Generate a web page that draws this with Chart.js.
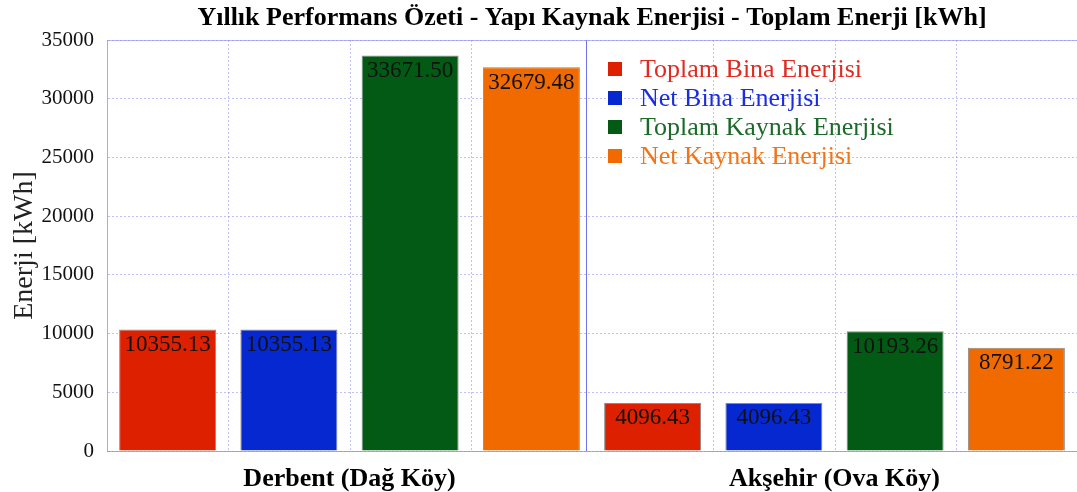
<!DOCTYPE html>
<html>
<head>
<meta charset="utf-8">
<script src="https://cdn.jsdelivr.net/npm/chart.js@4/dist/chart.umd.min.js"></script>
<style>
  html, body { margin: 0; padding: 0; background: #fff; overflow: hidden; }
  #wrap { width: 1077px; height: 492px; }
</style>
</head>
<body>
<div id="wrap"><canvas id="myChart" width="1077" height="492"></canvas></div>
<script>
// villages on the x axis
const villages = ["Derbent (Dağ Köy)", "Akşehir (Ova Köy)"];

// yearly energy values per village, kWh
const toplamBina = [10355.13, 4096.43];
const netBina = [10355.13, 4096.43];
const toplamKaynak = [33671.50, 10193.26];
const netKaynak = [32679.48, 8791.22];

const seriesNames = ["Toplam Bina Enerjisi", "Net Bina Enerjisi", "Toplam Kaynak Enerjisi", "Net Kaynak Enerjisi"];
const barColors = ["#dd2000", "#0628d0", "#025a14", "#f06a00"];
const labelColors = ["#e02a22", "#1a2ee0", "#1c6a2a", "#f07418"];

const yTicks = [0, 5000, 10000, 15000, 20000, 25000, 30000, 35000];

const chartTitle = "Yıllık Performans Özeti - Yapı Kaynak Enerjisi - Toplam Enerji [kWh]";

const serif = "'Liberation Serif', 'DejaVu Serif', serif";
const gridBlue = "rgba(130,130,240,0.5)";

// title centred over the plot area rather than the whole canvas
const plotTitle = {
  id: "plotTitle",
  afterDraw(chart) {
    const ctx = chart.ctx;
    const area = chart.chartArea;
    ctx.save();
    ctx.font = "bold 26px " + serif;
    ctx.fillStyle = "#000";
    ctx.textAlign = "center";
    ctx.textBaseline = "middle";
    ctx.fillText(chartTitle, (area.left + area.right) / 2, 18);
    ctx.restore();
  }
};

// value printed at the top of each bar
const valueLabels = {
  id: "valueLabels",
  afterDatasetsDraw(chart) {
    const ctx = chart.ctx;
    ctx.save();
    ctx.font = "23px " + serif;
    ctx.fillStyle = "#111";
    ctx.textAlign = "center";
    ctx.textBaseline = "top";
    chart.data.datasets.forEach((ds, i) => {
      chart.getDatasetMeta(i).data.forEach((bar, j) => {
        ctx.fillText(ds.data[j].toFixed(2), bar.x, bar.y + 4);
      });
    });
    ctx.restore();
  }
};

// dotted separators between the bars, solid line between the villages, frame on top
const frameLines = {
  id: "frameLines",
  beforeDatasetsDraw(chart) {
    const ctx = chart.ctx;
    const area = chart.chartArea;
    const metas = chart.data.datasets.map((d, i) => chart.getDatasetMeta(i));
    ctx.save();
    ctx.lineWidth = 1;
    ctx.strokeStyle = gridBlue;
    ctx.setLineDash([2, 2]);
    villages.forEach((v, j) => {
      for (let i = 0; i < metas.length - 1; i++) {
        const a = metas[i].data[j];
        const b = metas[i + 1].data[j];
        const x = Math.round(((a.x + a.width / 2) + (b.x - b.width / 2)) / 2) + 0.5;
        ctx.beginPath();
        ctx.moveTo(x, area.top);
        ctx.lineTo(x, area.bottom);
        ctx.stroke();
      }
    });
    ctx.setLineDash([]);
    // border between the two villages
    const xs = chart.scales.x;
    const sep = Math.round((xs.getPixelForValue(0) + xs.getPixelForValue(1)) / 2) - 5.5;
    ctx.strokeStyle = "#7070ec";
    ctx.beginPath();
    ctx.moveTo(sep, area.top);
    ctx.lineTo(sep, area.bottom);
    ctx.stroke();
    // top frame
    ctx.strokeStyle = "rgba(140,140,240,0.6)";
    ctx.beginPath();
    ctx.moveTo(area.left, area.top + 0.5);
    ctx.lineTo(area.right, area.top + 0.5);
    ctx.stroke();
    ctx.restore();
  }
};

// legend drawn inside the plot, right of the village separator
const innerLegend = {
  id: "innerLegend",
  afterDraw(chart) {
    const ctx = chart.ctx;
    const area = chart.chartArea;
    const xs = chart.scales.x;
    const sep = (xs.getPixelForValue(0) + xs.getPixelForValue(1)) / 2 - 6;
    const x0 = sep + 22;
    ctx.save();
    ctx.font = "26px " + serif;
    ctx.textBaseline = "middle";
    chart.data.datasets.forEach((ds, i) => {
      const y = area.top + 29 + i * 29;
      ctx.fillStyle = ds.backgroundColor;
      ctx.fillRect(x0, y - 7, 14, 14);
      ctx.fillStyle = labelColors[i];
      ctx.fillText(ds.label, x0 + 32, y + 1);
    });
    ctx.restore();
  }
};

const data = {
  labels: villages,
  datasets: [toplamBina, netBina, toplamKaynak, netKaynak].map((vals, i) => ({
    label: seriesNames[i],
    data: vals,
    backgroundColor: barColors[i],
    borderColor: "#8a8a8a",
    borderWidth: 1,
    categoryPercentage: 1.0,
    barPercentage: 0.8
  }))
};

const config = {
  type: "bar",
  data: data,
  options: {
    responsive: false,
    animation: false,
    layout: { padding: { left: 0, right: 0, top: 40, bottom: 0 } },
    plugins: {
      legend: { display: false },
      tooltip: { enabled: false },
      title: { display: false }
    },
    scales: {
      x: {
        afterFit(axis) {
          axis.height = 41;
        },
        grid: { display: false, drawTicks: false },
        border: { display: true, color: "rgba(130,130,240,0.7)" },
        ticks: {
          color: "#000",
          font: { family: serif, size: 26, weight: "bold" },
          padding: 13
        }
      },
      y: {
        min: 0,
        max: 35000,
        afterBuildTicks(axis) {
          axis.ticks = yTicks.map((v) => ({ value: v }));
        },
        afterFit(axis) {
          axis.width = 107;
        },
        grid: {
          color: gridBlue,
          drawTicks: false
        },
        border: { display: true, color: "rgba(140,140,240,0.75)", dash: [2, 2] },
        ticks: {
          color: "#111",
          font: { family: serif, size: 21 },
          padding: 13,
          callback: (v) => String(v)
        },
        title: {
          display: true,
          text: "Enerji [kWh]",
          color: "#222",
          font: { family: serif, size: 28 },
          padding: { top: 8, bottom: 0 }
        }
      }
    }
  },
  plugins: [frameLines, valueLabels, innerLegend, plotTitle]
};

const myChart = new Chart(document.getElementById("myChart"), config);
</script>
</body>
</html>
